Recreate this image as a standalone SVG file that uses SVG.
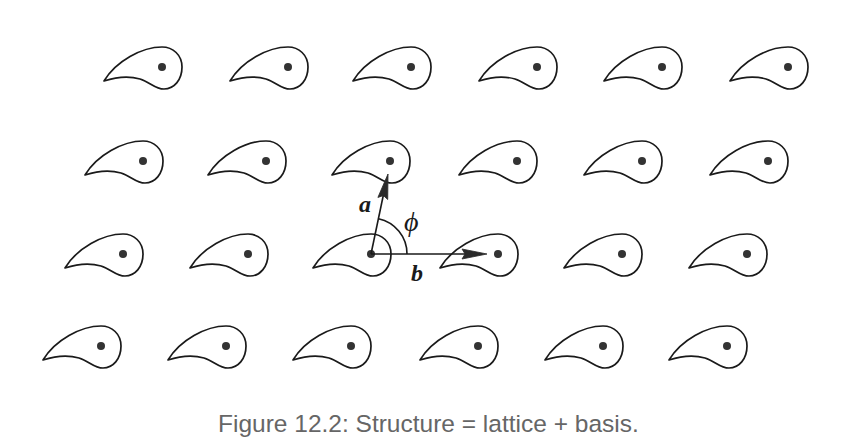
<svg xmlns="http://www.w3.org/2000/svg" xmlns:xlink="http://www.w3.org/1999/xlink" width="842" height="446" viewBox="0 0 842 446">
<style>
.shape{fill:none;stroke:#1a1a1a;stroke-width:1.7;stroke-linejoin:round}
.dot{fill:#333}
.vec{stroke:#1a1a1a;stroke-width:1.6;fill:none}
.head{fill:#2a2a2a;stroke:#2a2a2a;stroke-width:0.8;stroke-linejoin:round}
.lbl{font-family:"Liberation Serif","Times New Roman",serif;font-style:italic;font-weight:bold;fill:#1a1a1a}
.phi{font-family:"Liberation Serif","DejaVu Serif",serif;font-style:italic;fill:#1a1a1a}
.cap{font-family:"Liberation Sans",Arial,sans-serif;fill:#666666}
</style>
<defs>
<g id="drop">
<path class="shape" d="M-58,14 C-46,10 -32,9 -22,12 C-12,15 -7,22 2,22 C12,22 20,13 20,0 C20,-12 11,-20 0,-20 C-20,-20 -46,-6 -58,14 Z"/>
<circle class="dot" cx="0" cy="0" r="4"/>
</g>
<path id="head" class="head" d="M0,0 L-25,-5 L-22,0 L-25,5 Z"/>
</defs>
<g id="row1">
<g id="n11"><use xlink:href="#drop" x="162" y="67"/></g>
<g id="n12"><use xlink:href="#drop" x="288" y="67"/></g>
<g id="n13"><use xlink:href="#drop" x="411" y="67"/></g>
<g id="n14"><use xlink:href="#drop" x="537" y="67"/></g>
<g id="n15"><use xlink:href="#drop" x="662" y="67"/></g>
<g id="n16"><use xlink:href="#drop" x="788" y="67"/></g>
</g>
<g id="row2">
<g id="n21"><use xlink:href="#drop" x="143" y="161"/></g>
<g id="n22"><use xlink:href="#drop" x="266" y="161"/></g>
<g id="n23"><use xlink:href="#drop" x="390" y="161"/></g>
<g id="n24"><use xlink:href="#drop" x="517" y="161"/></g>
<g id="n25"><use xlink:href="#drop" x="642" y="161"/></g>
<g id="n26"><use xlink:href="#drop" x="768" y="161"/></g>
</g>
<g id="row3">
<g id="n31"><use xlink:href="#drop" x="123" y="254"/></g>
<g id="n32"><use xlink:href="#drop" x="248" y="254"/></g>
<g id="n33"><use xlink:href="#drop" x="371" y="254"/></g>
<g id="n34"><use xlink:href="#drop" x="498" y="254"/></g>
<g id="n35"><use xlink:href="#drop" x="622" y="254"/></g>
<g id="n36"><use xlink:href="#drop" x="747" y="254"/></g>
</g>
<g id="row4">
<g id="n41"><use xlink:href="#drop" x="101" y="346"/></g>
<g id="n42"><use xlink:href="#drop" x="226" y="346"/></g>
<g id="n43"><use xlink:href="#drop" x="351" y="346"/></g>
<g id="n44"><use xlink:href="#drop" x="478" y="346"/></g>
<g id="n45"><use xlink:href="#drop" x="603" y="346"/></g>
<g id="n46"><use xlink:href="#drop" x="727" y="346"/></g>
</g>
<g id="connectors">
<line class="vec" x1="371" y1="254" x2="384" y2="192"/>
<use xlink:href="#head" transform="translate(388,174) rotate(-78)"/>
<line class="vec" x1="371" y1="254" x2="466" y2="254"/>
<use xlink:href="#head" transform="translate(487,254)"/>
<path class="vec" stroke-width="1.2" d="M407,254 A36,36 0 0 0 378.5,218.8"/>
</g>
<text class="lbl" x="359" y="212" font-size="24">a</text>
<text class="lbl" x="411" y="281" font-size="24">b</text>
<text class="phi" x="404" y="231" font-size="28">ϕ</text>
<text class="cap" x="218" y="432" font-size="24.5">Figure 12.2: Structure = lattice + basis.</text>
</svg>
